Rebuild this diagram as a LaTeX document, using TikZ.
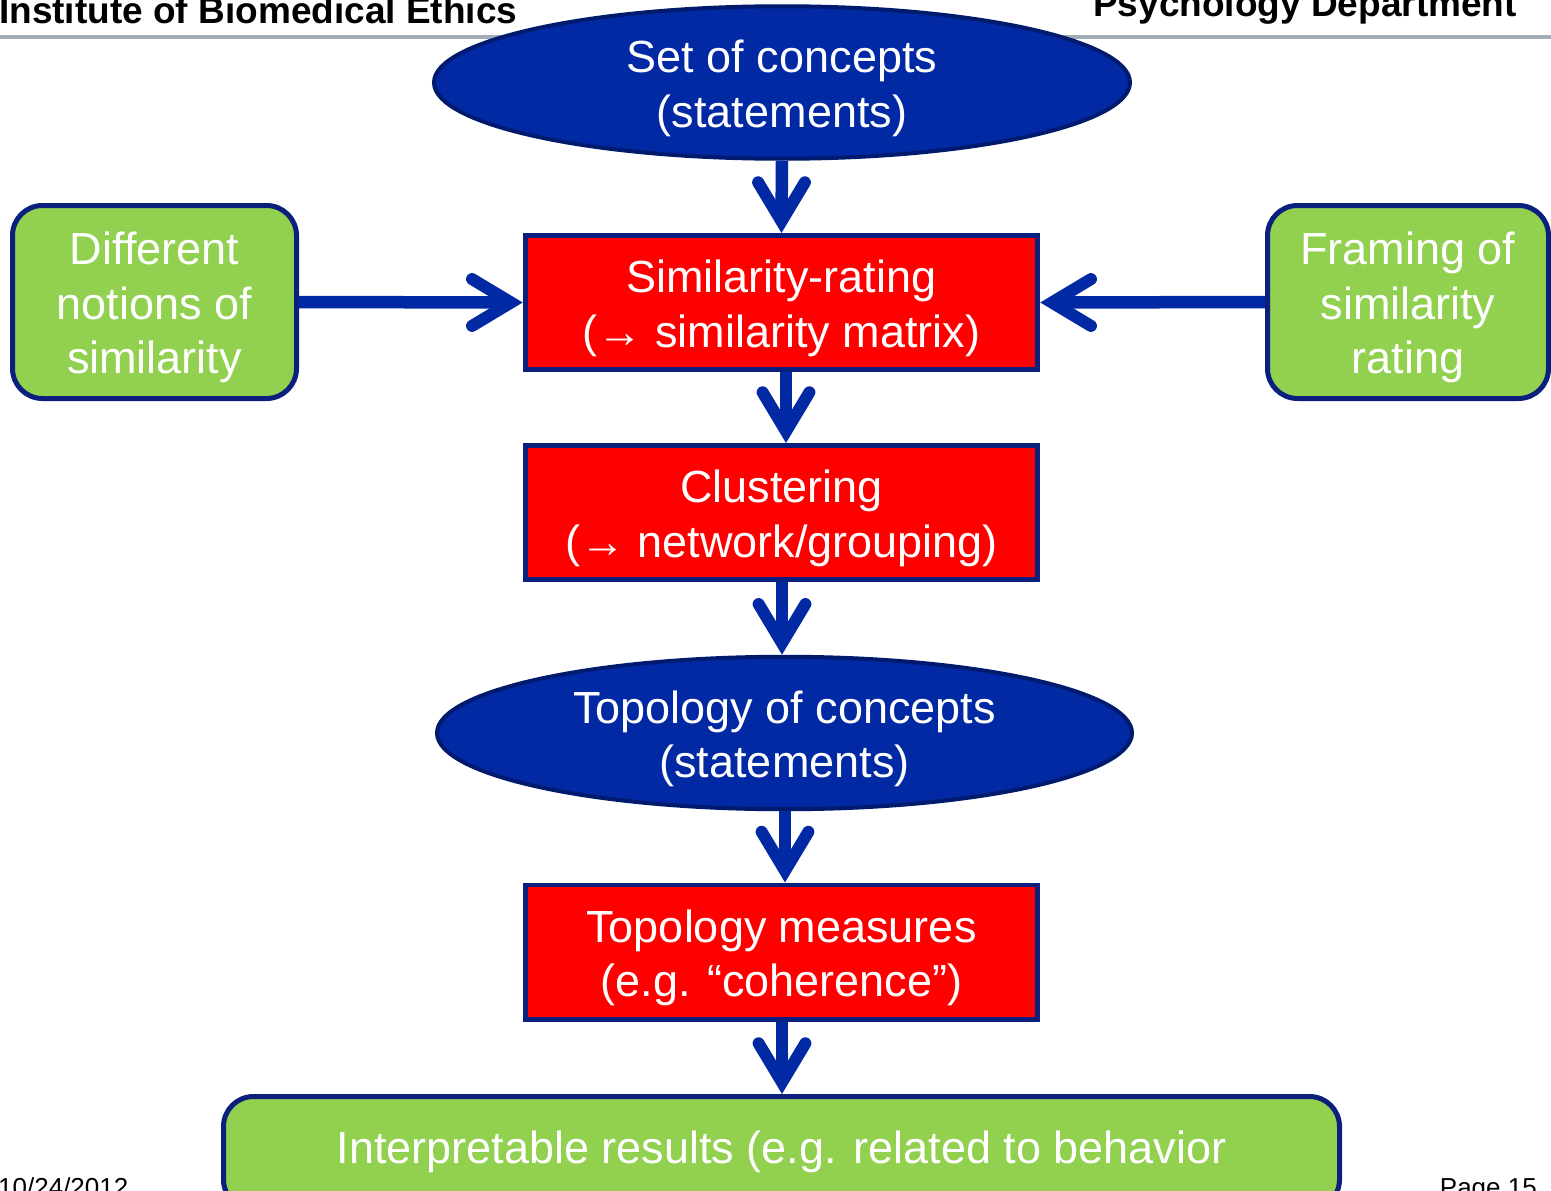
\documentclass[tikz,border=0pt]{standalone}
\usepackage{fontspec}
\setmainfont{Liberation Sans}
\usetikzlibrary{shapes.geometric,calc}
\definecolor{navy}{HTML}{0B1F7D}
\definecolor{ellfill}{HTML}{0029A3}
\definecolor{ellline}{HTML}{001A6E}
\definecolor{arrblue}{HTML}{0029A3}
\definecolor{boxred}{HTML}{FF0000}
\definecolor{boxgreen}{HTML}{92D050}
\definecolor{rulegray}{HTML}{A3ADB8}
% vertical connector: from, to, x-shift at from, x-shift at to
\newcommand\vconn[4]{%
  \draw[shaft] ($(#1)+(#3,0)$) -- ($(#2)+(#4,-11)$);
  \draw[chev] ($(#2)+({#4-23.4},-50.7)$) -- ($(#2)+(#4,-11.7)$) -- ($(#2)+({#4+23.4},-50.7)$);}
% horizontal connector: from, to, direction (1 = right, -1 = left)
\newcommand\hconn[3]{%
  \draw[shaft] (#1) -- ($(#2)+({-11*#3},0)$);
  \draw[chev] ($(#2)+({-50.7*#3},-23.4)$) -- ($(#2)+({-11.7*#3},0)$) -- ($(#2)+({-50.7*#3},23.4)$);}
\newcommand\topstrut{\rule{0pt}{44pt}}
\begin{document}
\begin{tikzpicture}[x=1pt,y=-1pt,
  txt/.style={text=white,font=\fontsize{45}{54.5}\selectfont,align=center,inner sep=0pt},
  ellnode/.style={txt,ellipse,fill=ellfill,draw=ellline,line width=4pt,minimum width=696pt,minimum height=151pt},
  redbox/.style={txt,rectangle,fill=boxred,draw=navy,line width=4.8pt,minimum width=512.7pt,minimum height=134.2pt},
  greenbox/.style={txt,rectangle,rounded corners=30pt,fill=boxgreen,draw=navy,line width=5pt},
  hdr/.style={inner sep=0pt,font=\bfseries\fontsize{37}{37}\selectfont},
  ftr/.style={inner sep=0pt,font=\fontsize{26}{26}\selectfont},
  shaft/.style={draw=arrblue,line width=12.5pt},
  chev/.style={draw=arrblue,line width=12pt,line cap=round,line join=miter},
]
\useasboundingbox (0,0) rectangle (1551,1191);
\clip (0,0) rectangle (1551,1191);

% header
\draw[rulegray,line width=4pt] (0,37) -- (1551,37);
\node[hdr,anchor=base west] (h1) at (-1,23.3) {Institute of Biomedical Ethics};
\node[hdr,anchor=base east] (h2) at (1517,16.7) {Psychology Department};

% footer
\node[ftr,anchor=base west] (date) at (-2,1196) {10/24/2012};
\node[ftr,anchor=base east] (page) at (1537,1196) {Page 15};

% main nodes
\node[ellnode] (e1) at (782,82.5) {\topstrut Set of concepts\\(statements)};
\node[redbox] (r1) at (781.5,302.5) {\topstrut Similarity-rating\\(→ similarity matrix)};
\node[redbox] (r2) at (781.5,512.5) {\topstrut Clustering\\(→ network/grouping)};
\node[ellnode,minimum width=695pt,minimum height=150pt] (e2) at (784.5,733) {\topstrut Topology of concepts\\(statements)};
\node[redbox] (r3) at (781.5,952) {\topstrut Topology measures\\(e.g. “coherence”)};
\node[greenbox,minimum width=1116pt,minimum height=113pt,text height=32pt,text depth=12pt] (g) at (781.5,1153) {Interpretable results (e.g. related to behavior};
\node[greenbox,minimum width=284pt,minimum height=193pt] (lft) at (154.5,302) {\topstrut Different\\notions of\\similarity};
\node[greenbox,minimum width=281pt,minimum height=193pt] (rgt) at (1408,302) {\topstrut Framing of\\similarity\\rating};

% connectors
\vconn{e1.south}{r1.north}{0}{0}
\vconn{r1.south}{r2.north}{4.5}{4.5}
\vconn{r2.south}{e2.north}{0.5}{-2.5}
\vconn{e2.south}{r3.north}{0.5}{3.5}
\vconn{r3.south}{g.north}{0.5}{0.5}
\hconn{lft.east}{r1.west}{1}
\hconn{rgt.west}{r1.east}{-1}
\end{tikzpicture}
\end{document}
